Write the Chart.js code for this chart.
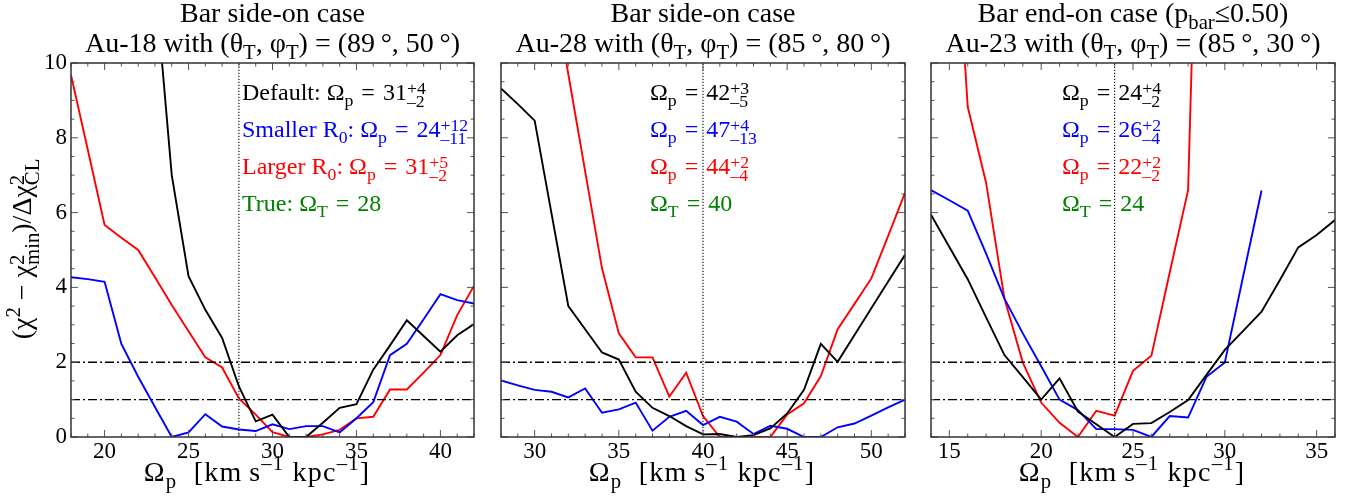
<!DOCTYPE html>
<html>
<head>
<meta charset="utf-8">
<script src="https://cdn.jsdelivr.net/npm/chart.js@4.4.1/dist/chart.umd.min.js"></script>
<style>
  body { margin: 0; background: #fff; }
  .panel { position: absolute; top: 0; height: 500px; }
</style>
</head>
<body>
<div class="panel" style="left:0;width:480px"><canvas id="c1"></canvas></div>
<div class="panel" style="left:480px;width:450px"><canvas id="c2"></canvas></div>
<div class="panel" style="left:930px;width:432px"><canvas id="c3"></canvas></div>
<script>
const F = "'Liberation Serif', 'Times New Roman', serif";

// shared y axis and reference levels
const yTicks = [0, 2, 4, 6, 8, 10];
const levels = [1, 2];

// panel 1 : Au-18, side-on
const omegaA = [18, 19, 20, 21, 22, 23, 24, 25, 26, 27, 28, 29, 30, 31, 32, 33, 34, 35, 36, 37, 38, 39, 40, 41, 42];
const defaultA = [40, 33, 27, 21, 16, 12.2, 7.0, 4.3, 3.4, 2.65, 1.35, 0.42, 0.6, 0.0, 0.0, 0.38, 0.78, 0.88, 1.8, 2.45, 3.12, 2.7, 2.28, 2.72, 3.02];
const smallerA = [4.27, 4.22, 4.15, 2.49, 1.61, 0.8, 0.0, 0.12, 0.61, 0.28, 0.2, 0.16, 0.34, 0.21, 0.29, 0.29, 0.12, 0.5, 0.93, 2.19, 2.49, 3.15, 3.82, 3.66, 3.57];
const largerA = [9.68, 7.68, 5.67, 5.33, 5.0, 4.27, 3.53, 2.83, 2.13, 1.86, 1.03, 0.6, 0.13, 0.0, 0.0, 0.07, 0.19, 0.5, 0.54, 1.27, 1.27, 1.72, 2.19, 3.26, 4.04];
const trueA = 28;
const xTicksA = [20, 25, 30, 35, 40];

// panel 2 : Au-28, side-on
const omegaB = [28, 29, 30, 31, 32, 33, 34, 35, 36, 37, 38, 39, 40, 41, 42, 43, 44, 45, 46, 47, 48, 49, 50, 51, 52];
const defaultB = [9.32, 8.9, 8.46, 5.98, 3.5, 2.88, 2.26, 2.07, 1.21, 0.78, 0.56, 0.29, 0.07, 0.08, 0.0, 0.05, 0.23, 0.63, 1.26, 2.49, 2.01, 2.73, 3.44, 4.16, 4.87];
const smallerB = [1.51, 1.38, 1.26, 1.21, 1.06, 1.3, 0.65, 0.74, 0.92, 0.17, 0.54, 0.7, 0.32, 0.54, 0.41, 0.08, 0.3, 0.22, 0.0, 0.0, 0.26, 0.36, 0.57, 0.79, 1.0];
const largerB = [20, 17.5, 15, 12.3, 9.7, 7.1, 4.51, 2.77, 2.13, 2.13, 1.08, 1.72, 0.56, 0.0, 0.0, 0.0, 0.0, 0.6, 0.9, 1.63, 2.88, 3.56, 4.24, 5.38, 6.53];
const trueB = 40;
const xTicksB = [30, 35, 40, 45, 50];

// panel 3 : Au-23, end-on
const omegaC = [14, 15, 16, 17, 18, 19, 20, 21, 22, 23, 24, 25, 26, 27, 28, 29, 30, 31, 32, 33, 34, 35, 36];
const defaultC = [5.94, 5.08, 4.22, 3.2, 2.19, 1.6, 1.0, 1.57, 0.68, 0.34, 0.0, 0.35, 0.37, 0.67, 0.99, 1.66, 2.33, 2.84, 3.35, 4.2, 5.07, 5.4, 5.8];
const smallerC = [6.6, 6.33, 6.05, 4.9, 3.7, 2.77, 1.89, 1.0, 0.72, 0.21, 0.21, 0.19, 0.0, 0.56, 0.52, 1.61, 1.99, 4.3, 6.59];
const largerC = [24, 16.6, 8.83, 6.8, 3.7, 1.99, 0.92, 0.38, 0.0, 0.7, 0.57, 1.77, 2.17, 4.4, 6.6, 24];
const trueC = 24;
const xTicksC = [15, 20, 25, 30, 35];

const BLACK = '#000000', BLUE = '#0000ff', RED = '#ff0000', GREEN = '#008000';
const EQ = ' \u200A=\u200A ';

// rich text: strings, ['_', s] sub, ['^', s] sup, ['^_', sup, sub] stacked
function rich(ctx, segs, x, y, size, color, align, spacing) {
  const sm = size * 0.74;
  ctx.letterSpacing = (spacing || 0) + 'px';
  const parts = segs.map(sg => {
    if (typeof sg === 'string') {
      ctx.font = size + 'px ' + F;
      return { k: 'n', t: sg, w: ctx.measureText(sg).width };
    }
    ctx.font = sm + 'px ' + F;
    if (sg[0] === '^_') {
      return { k: 'ss', a: sg[1], b: sg[2], w: Math.max(ctx.measureText(sg[1]).width, ctx.measureText(sg[2]).width) };
    }
    return { k: sg[0], t: sg[1], w: ctx.measureText(sg[1]).width };
  });
  const total = parts.reduce((s, p) => s + p.w, 0);
  let cx = align === 'center' ? x - total / 2 : x;
  ctx.fillStyle = color;
  ctx.textAlign = 'left';
  ctx.textBaseline = 'alphabetic';
  parts.forEach(p => {
    if (p.k === 'n') {
      ctx.font = size + 'px ' + F;
      ctx.fillText(p.t, cx, y);
    } else {
      ctx.font = sm + 'px ' + F;
      if (p.k === '_') ctx.fillText(p.t, cx, y + size * 0.24);
      else if (p.k === '^') ctx.fillText(p.t, cx, y - size * 0.4);
      else {
        ctx.fillText(p.a, cx, y - size * 0.24);
        ctx.fillText(p.b, cx, y + size * 0.3);
      }
    }
    cx += p.w;
  });
  ctx.letterSpacing = '0px';
}

const noteBase = [100, 137, 174, 211];

function makeDeco(p) {
  return {
    id: 'deco',
    afterDatasetsDraw(chart) {
      const { ctx, chartArea: a, scales: { x, y } } = chart;
      ctx.save();
      ctx.strokeStyle = '#555';
      ctx.lineWidth = 1;
      const seg = (x0, y0, x1, y1) => { ctx.beginPath(); ctx.moveTo(x0, y0); ctx.lineTo(x1, y1); ctx.stroke(); };
      for (let v = Math.ceil(p.xMin); v <= p.xMax; v++) {
        const len = v % 5 === 0 ? 7 : 3.5;
        const px = x.getPixelForValue(v);
        seg(px, a.bottom, px, a.bottom - len);
        seg(px, a.top, px, a.top + len);
      }
      for (let v = 0; v <= 10; v += 0.5) {
        const len = v % 2 === 0 ? 7 : 3.5;
        const py = y.getPixelForValue(v);
        seg(a.left, py, a.left + len, py);
        seg(a.right, py, a.right - len, py);
      }
      ctx.strokeStyle = '#333';
      ctx.lineWidth = 1.5;
      ctx.strokeRect(a.left, a.top, a.right - a.left, a.bottom - a.top);

      p.notes.forEach((n, i) => rich(ctx, n.segs, p.noteX, noteBase[i], 24, n.color, 'left'));

      const cx = (a.left + a.right) / 2;
      rich(ctx, p.title1, cx, 22, 28, BLACK, 'center');
      rich(ctx, p.title2, cx, 52, 28, BLACK, 'center');
      rich(ctx, ['\u03A9', ['_', 'p'], '  [km\u2009s', ['^', '\u2013' + '1'], ' kpc', ['^', '\u2013' + '1'], ']'], p.xTitleX, 481, 28, BLACK, 'center', 1.2);

      if (p.yTitle) {
        ctx.translate(31, 249);
        ctx.rotate(-Math.PI / 2);
        rich(ctx, ['(\u03C7', ['^', '2'], ' \u2212 \u03C7', ['^_', '2', 'min'], ')/\u0394\u03C7', ['^_', '2', 'CL']], 0, 0, 28, BLACK, 'center');
      }
      ctx.restore();
    }
  };
}

function pts(xs, ys) {
  return ys.map((v, i) => ({ x: xs[i], y: v }));
}

function panel(id, p) {
  const datasets = [];
  levels.forEach(l => datasets.push({
    data: [{ x: p.xMin, y: l }, { x: p.xMax, y: l }],
    borderColor: BLACK, borderWidth: 1.4, borderDash: [9, 3, 2, 3], pointRadius: 0
  }));
  datasets.push({
    data: [{ x: p.trueVal, y: 0 }, { x: p.trueVal, y: 10 }],
    borderColor: BLACK, borderWidth: 1.1, borderDash: [1.2, 1.8], pointRadius: 0
  });
  p.series.forEach(s => datasets.push({
    data: pts(p.omega, s.y), borderColor: s.color, borderWidth: 1.9, pointRadius: 0, clip: 0
  }));

  const tickFont = { family: F, size: 23 };
  new Chart(document.getElementById(id), {
    type: 'line',
    data: { datasets },
    options: {
      animation: false,
      responsive: true,
      maintainAspectRatio: false,
      layout: { padding: { top: 63, right: p.padR, left: 0, bottom: 0 } },
      plugins: { legend: { display: false }, tooltip: { enabled: false } },
      scales: {
        x: {
          type: 'linear', min: p.xMin, max: p.xMax,
          afterBuildTicks: s => { s.ticks = p.xTicks.map(v => ({ value: v })); },
          afterFit: s => { s.height = 63; },
          ticks: { font: tickFont, color: BLACK, padding: 1, maxRotation: 0, autoSkip: false },
          grid: { display: false, drawTicks: false },
          border: { display: false }
        },
        y: {
          type: 'linear', min: 0, max: 10,
          afterBuildTicks: s => { s.ticks = yTicks.map(v => ({ value: v })); },
          afterFit: s => { s.width = p.yWidth; },
          ticks: { display: p.yLabels, font: tickFont, color: BLACK, padding: 4 },
          grid: { display: false, drawTicks: false },
          border: { display: false }
        }
      }
    },
    plugins: [makeDeco(p)]
  });
}

panel('c1', {
  xMin: 18, xMax: 42, xTicks: xTicksA, omega: omegaA, trueVal: trueA,
  yWidth: 71, padR: 6, yLabels: true, yTitle: true, noteX: 242, xTitleX: 257,
  series: [{ y: defaultA, color: BLACK }, { y: smallerA, color: BLUE }, { y: largerA, color: RED }],
  title1: ['Bar side-on case'],
  title2: ['Au-18 with (\u03B8', ['_', 'T'], ', \u03C6', ['_', 'T'], ') = (89\u2009\u00B0, 50\u2009\u00B0)'],
  notes: [
    { color: BLACK, segs: ['Default: \u03A9', ['_', 'p'], EQ + '31', ['^_', '+4', '\u20132']] },
    { color: BLUE, segs: ['Smaller R', ['_', '0'], ': \u03A9', ['_', 'p'], EQ + '24', ['^_', '+12', '\u201311']] },
    { color: RED, segs: ['Larger R', ['_', '0'], ': \u03A9', ['_', 'p'], EQ + '31', ['^_', '+5', '\u20132']] },
    { color: GREEN, segs: ['True: \u03A9', ['_', 'T'], EQ + '28'] }
  ]
});

panel('c2', {
  xMin: 28, xMax: 52, xTicks: xTicksB, omega: omegaB, trueVal: trueB,
  yWidth: 21, padR: 25, yLabels: false, yTitle: false, noteX: 650 - 480, xTitleX: 702 - 480,
  series: [{ y: defaultB, color: BLACK }, { y: smallerB, color: BLUE }, { y: largerB, color: RED }],
  title1: ['Bar side-on case'],
  title2: ['Au-28 with (\u03B8', ['_', 'T'], ', \u03C6', ['_', 'T'], ') = (85\u2009\u00B0, 80\u2009\u00B0)'],
  notes: [
    { color: BLACK, segs: ['\u03A9', ['_', 'p'], EQ + '42', ['^_', '+3', '\u20135']] },
    { color: BLUE, segs: ['\u03A9', ['_', 'p'], EQ + '47', ['^_', '+4', '\u201313']] },
    { color: RED, segs: ['\u03A9', ['_', 'p'], EQ + '44', ['^_', '+2', '\u20134']] },
    { color: GREEN, segs: ['\u03A9', ['_', 'T'], EQ + '40'] }
  ]
});

panel('c3', {
  xMin: 14, xMax: 36, xTicks: xTicksC, omega: omegaC, trueVal: trueC,
  yWidth: 1, padR: 27, yLabels: false, yTitle: false, noteX: 1062 - 930, xTitleX: 1132 - 930,
  series: [{ y: defaultC, color: BLACK }, { y: smallerC, color: BLUE }, { y: largerC, color: RED }],
  title1: ['Bar end-on case (p', ['_', 'bar'], '\u22640.50)'],
  title2: ['Au-23 with (\u03B8', ['_', 'T'], ', \u03C6', ['_', 'T'], ') = (85\u2009\u00B0, 30\u2009\u00B0)'],
  notes: [
    { color: BLACK, segs: ['\u03A9', ['_', 'p'], EQ + '24', ['^_', '+4', '\u20132']] },
    { color: BLUE, segs: ['\u03A9', ['_', 'p'], EQ + '26', ['^_', '+2', '\u20134']] },
    { color: RED, segs: ['\u03A9', ['_', 'p'], EQ + '22', ['^_', '+2', '\u20132']] },
    { color: GREEN, segs: ['\u03A9', ['_', 'T'], EQ + '24'] }
  ]
});
</script>
</body>
</html>
